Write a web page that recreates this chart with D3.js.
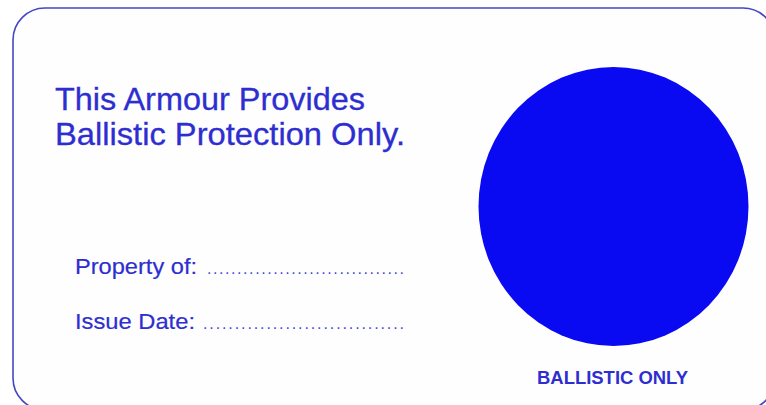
<!DOCTYPE html>
<html><head><meta charset="utf-8">
<script src="https://cdn.jsdelivr.net/npm/d3@7"></script>
<style>html,body{margin:0;padding:0;background:#fff;overflow:hidden}</style>
</head><body>
<svg id="c" width="766" height="405"></svg>
<script>
const headingLines = ["This Armour Provides", "Ballistic Protection Only."];
const fieldLabels = ["Property of:", "Issue Date:"];
const fieldDots = [".................................", "................................"];
const badgeLabel = ["BALLISTIC ONLY"];

const svg = d3.select("#c");
const textColor = "#2e2ed0";
const font = "Liberation Sans, Arial, Helvetica, sans-serif";

svg.append("rect").attr("x", 13).attr("y", 8).attr("width", 762).attr("height", 402)
  .attr("rx", 32).attr("ry", 32).attr("fill", "#fefeff").attr("stroke", "#4646c4").attr("stroke-width", 1.6);

svg.append("ellipse").attr("cx", 613.5).attr("cy", 206.5).attr("rx", 135).attr("ry", 139.5)
  .attr("fill", "#0a0af2");

const headW = [310, 350];
const y1 = d3.scalePoint().domain(headingLines).range([110, 145]);
svg.selectAll("text.h").data(headingLines).join("text").attr("class", "h")
  .attr("x", 55).attr("y", d => y1(d))
  .attr("font-family", font).attr("font-size", 30.5)
  .attr("textLength", (d, i) => headW[i]).attr("lengthAdjust", "spacingAndGlyphs")
  .attr("stroke", textColor).attr("stroke-width", 0.3)
  .attr("fill", textColor).text(d => d);

const labelW = [122, 120];
const dotsX = [207, 203];
const y2 = d3.scalePoint().domain(fieldLabels).range([274, 329]);
svg.selectAll("text.f").data(fieldLabels).join("text").attr("class", "f")
  .attr("x", 75).attr("y", d => y2(d))
  .attr("font-family", font).attr("font-size", 22)
  .attr("textLength", (d, i) => labelW[i]).attr("lengthAdjust", "spacingAndGlyphs")
  .attr("stroke", textColor).attr("stroke-width", 0.2)
  .attr("fill", textColor).text(d => d);
svg.selectAll("text.d").data(fieldLabels).join("text").attr("class", "d")
  .attr("x", (d, i) => dotsX[i]).attr("y", d => y2(d))
  .attr("font-family", font).attr("font-size", 16)
  .attr("textLength", (d, i) => 404 - dotsX[i]).attr("lengthAdjust", "spacing")
  .attr("fill", "#4a4ad6").text((d, i) => fieldDots[i]);

svg.selectAll("text.b").data(badgeLabel).join("text").attr("class", "b")
  .attr("x", 537).attr("y", 384)
  .attr("font-family", font).attr("font-weight", "bold").attr("font-size", 17.5)
  .attr("textLength", 151).attr("lengthAdjust", "spacingAndGlyphs")
  .attr("fill", textColor).text(d => d);
</script>
</body></html>
